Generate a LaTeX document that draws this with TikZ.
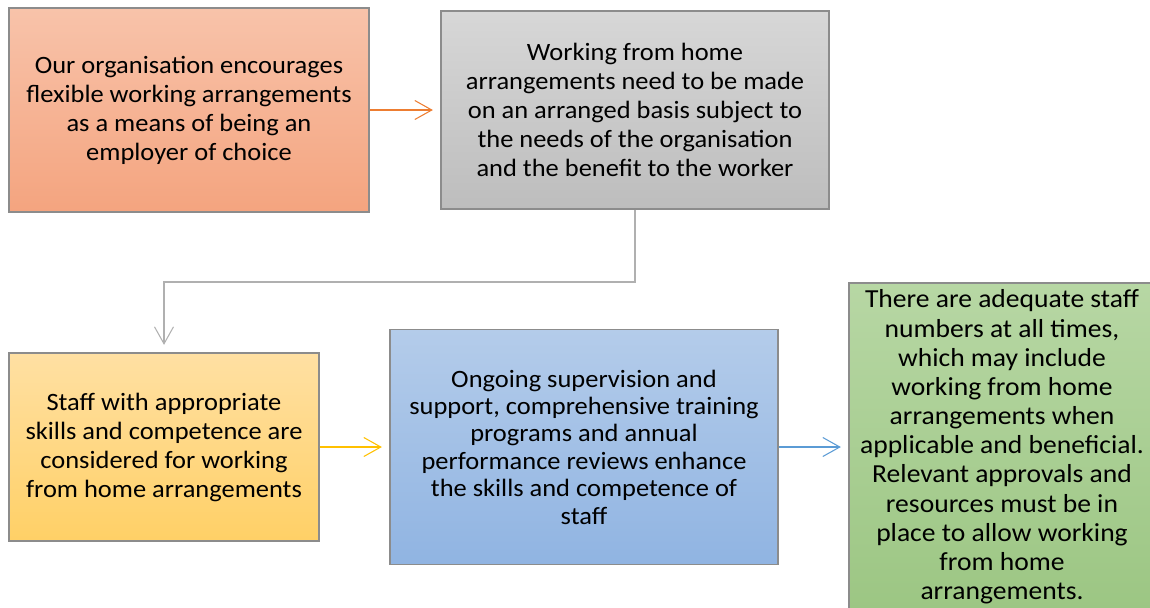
\documentclass[tikz,border=0pt]{standalone}
\usepackage{fontspec}
\setmainfont[FakeStretch=1.06]{Carlito}
\usepackage{tikz}
\usetikzlibrary{arrows.meta}

\definecolor{boxedge}{HTML}{8C8C8C}
\definecolor{orangeTop}{HTML}{F8C3AA}
\definecolor{orangeBot}{HTML}{F4A47F}
\definecolor{greyTop}{HTML}{D7D7D7}
\definecolor{greyBot}{HTML}{BDBDBD}
\definecolor{yellowTop}{HTML}{FFE0A3}
\definecolor{yellowBot}{HTML}{FFD066}
\definecolor{blueTop}{HTML}{B4CCEA}
\definecolor{blueBot}{HTML}{90B4E2}
\definecolor{greenTop}{HTML}{B7D7A4}
\definecolor{greenBot}{HTML}{9CC683}
\definecolor{orangeLine}{HTML}{ED7D31}
\definecolor{greyLine}{HTML}{B0B0B0}
\definecolor{yellowLine}{HTML}{FFC000}
\definecolor{blueLine}{HTML}{5B9BD5}

\begin{document}
\begin{tikzpicture}[
    box/.style={draw=boxedge, line width=0.7pt, rectangle, align=center, inner sep=0pt,
        font=\fontsize{14.2}{16.5}\selectfont},
    link/.style={line width=0.6pt, -{Straight Barb[length=0.34cm, width=0.38cm]}, shorten >=0.15cm}
]
    \useasboundingbox (0, 0) rectangle (23, -12.14);
    \clip (0, 0) rectangle (23, -12.14);

    \node[box, top color=orangeTop, bottom color=orangeBot, minimum width=7.2cm, minimum height=4.08cm] at (3.78, -2.2) (encourage) {Our organisation encourages\\flexible working arrangements\\as a means of being an\\employer of choice};
    \node[box, top color=greyTop, bottom color=greyBot, minimum width=7.76cm, minimum height=3.96cm] at (12.7, -2.2) (basis) {Working from home\\arrangements need to be made\\on an arranged basis subject to\\the needs of the organisation\\and the benefit to the worker};
    \node[box, top color=yellowTop, bottom color=yellowBot, minimum width=6.2cm, minimum height=3.76cm] at (3.28, -8.94) (skills) {Staff with appropriate\\skills and competence are\\considered for working\\from home arrangements};
    \node[box, top color=blueTop, bottom color=blueBot, minimum width=7.76cm, minimum height=4.7cm, font=\fontsize{14.2}{15.6}\selectfont] at (11.68, -8.94) (support) {Ongoing supervision and\\support, comprehensive training\\programs and annual\\performance reviews enhance\\the skills and competence of\\staff};
    \node[box, top color=greenTop, bottom color=greenBot, minimum width=6.12cm, minimum height=6.56cm, font=\fontsize{14.8}{16.6}\selectfont] at (20.04, -8.94) (numbers) {There are adequate staff\\numbers at all times,\\which may include\\working from home\\arrangements when\\applicable and beneficial.\\Relevant approvals and\\resources must be in\\place to allow working\\from home\\arrangements.};

    \coordinate (bend) at (12.7, -5.64);

    \draw[link, orangeLine] (encourage.east) -- (basis.west);
    \draw[link, greyLine] (basis.south) -- (bend) -| (skills.north);
    \draw[link, yellowLine] (skills.east) -- (support.west);
    \draw[link, blueLine] (support.east) -- (numbers.west);
\end{tikzpicture}
\end{document}
